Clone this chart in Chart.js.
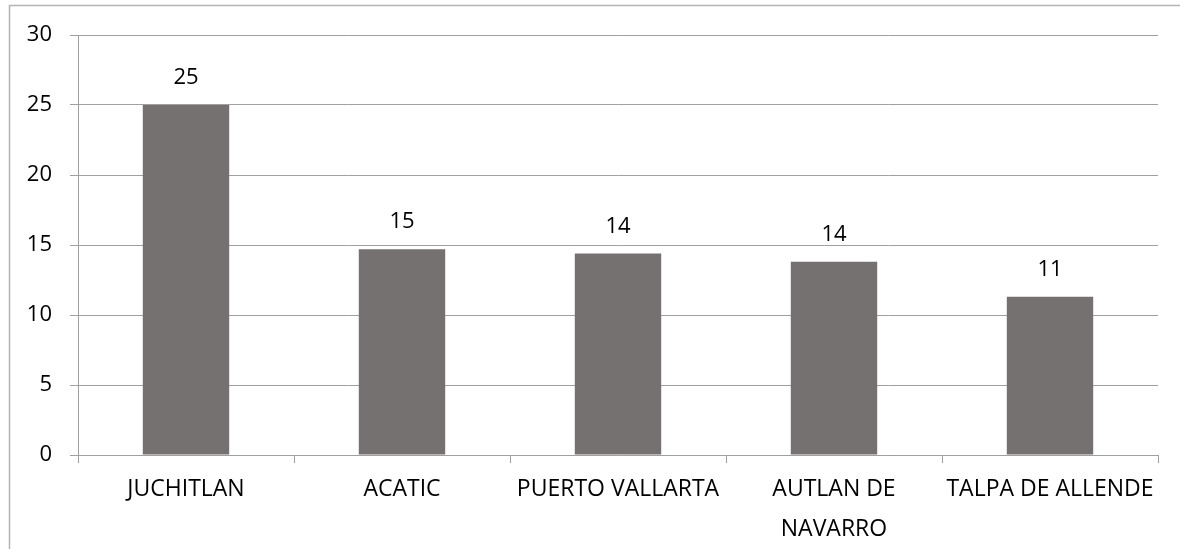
<!DOCTYPE html>
<html>
<head>
<meta charset="utf-8">
<script src="https://cdn.jsdelivr.net/npm/chart.js@4.4.1/dist/chart.umd.min.js"></script>
<style>
  html, body { margin: 0; padding: 0; background: #fff; }
  canvas { display: block; }
</style>
</head>
<body>
<canvas id="myChart" width="1180" height="549"></canvas>
<script>
const labels = ['JUCHITLAN', 'ACATIC', 'PUERTO VALLARTA', ['AUTLAN DE', 'NAVARRO'], 'TALPA DE ALLENDE'];
const values = [25, 14.7, 14.4, 13.8, 11.3];
const shownValues = ['25', '15', '14', '14', '11'];
const yTicks = [0, 5, 10, 15, 20, 25, 30];

const gridColor = '#a0a0a0';
const barColor = '#767171';

// grey frame around the chart object
const framePlugin = {
    id: 'frame',
    beforeDraw(chart) {
        const ctx = chart.ctx;
        ctx.save();
        ctx.strokeStyle = '#b4b4b4';
        ctx.lineWidth = 1.5;
        ctx.strokeRect(9.5, 5.5, 1200, 600);
        ctx.restore();
    }
};

// value labels above each bar
const valueLabels = {
    id: 'valueLabels',
    afterDatasetsDraw(chart) {
        const ctx = chart.ctx;
        const meta = chart.getDatasetMeta(0);
        ctx.save();
        ctx.font = '22px "Open Sans"';
        ctx.fillStyle = '#000';
        ctx.textAlign = 'center';
        ctx.textBaseline = 'middle';
        meta.data.forEach((bar, i) => {
            ctx.fillText(shownValues[i], bar.x, bar.y - 27);
        });
        ctx.restore();
    }
};

const chart = new Chart(document.getElementById('myChart').getContext('2d'), {
    type: 'bar',
    data: {
        labels: labels,
        datasets: [{
            data: values,
            backgroundColor: barColor,
            barPercentage: 0.4,
            categoryPercentage: 1
        }]
    },
    options: {
        responsive: false,
        animation: false,
        devicePixelRatio: 1,
        layout: { padding: { left: 0, right: 22, top: 35, bottom: 0 } },
        plugins: {
            legend: { display: false },
            tooltip: { enabled: false }
        },
        scales: {
            x: {
                grid: {
                    offset: true,
                    drawOnChartArea: false,
                    color: gridColor,
                    tickLength: 8
                },
                border: { color: gridColor },
                ticks: {
                    color: '#000',
                    font: { family: 'Open Sans', size: 23, lineHeight: 1.72 },
                    padding: 7,
                    maxRotation: 0,
                    autoSkip: false
                },
                afterFit(scale) { scale.height = 94; }
            },
            y: {
                min: 0,
                max: 30,
                afterBuildTicks(scale) { scale.ticks = yTicks.map(v => ({ value: v })); },
                grid: { color: gridColor, tickLength: 8 },
                border: { color: gridColor },
                ticks: {
                    color: '#000',
                    font: { family: 'Open Sans', size: 22 },
                    padding: 18
                },
                afterFit(scale) { scale.width = 78; }
            }
        }
    },
    plugins: [framePlugin, valueLabels]
});
</script>
</body>
</html>
